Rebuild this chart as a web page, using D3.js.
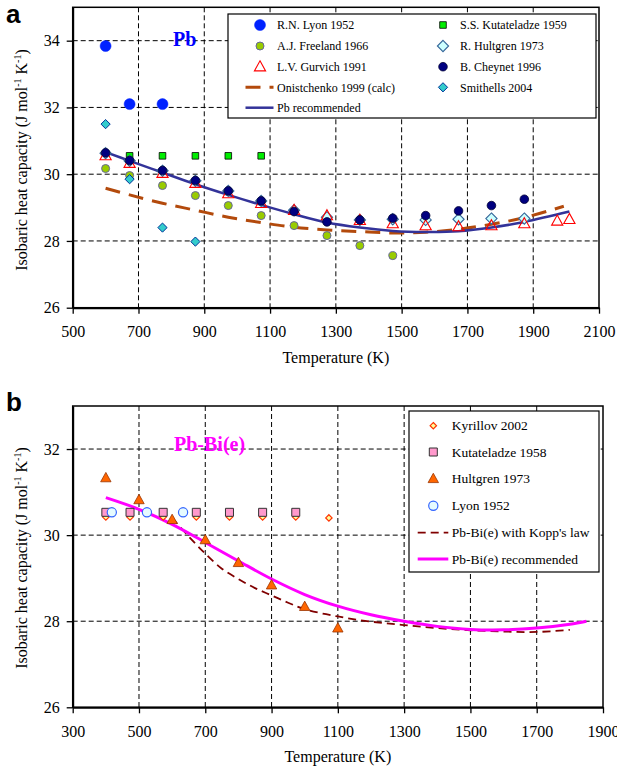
<!DOCTYPE html>
<html><head><meta charset="utf-8">
<script src="https://cdn.jsdelivr.net/npm/d3@7"></script>
<style>body{margin:0;background:#fff}svg{display:block}</style>
</head><body><svg id="c" width="617" height="772"></svg>
<script>
// ---------- Panel a : Pb ----------
const aTicksX = [500,700,900,1100,1300,1500,1700,1900,2100];
const aTicksY = [26,28,30,32,34];
const aLyonT = [600,673,773];
const aLyonCp = [33.84,32.1,32.1];
const aKutT = [673,773,873,973,1073];
const aKutCp = [30.55,30.55,30.55,30.55,30.55];
const aFreeT = [600,673,773,873,973,1073,1173,1273,1373,1473];
const aFreeCp = [30.17,29.96,29.66,29.36,29.06,28.76,28.46,28.16,27.86,27.56];
const aGurT = [600,673,773,873,973,1073,1173,1273,1373,1473,1573,1673,1773,1873,1973,2010];
const aGurCp = [30.56,30.33,30.03,29.73,29.42,29.13,28.92,28.76,28.62,28.52,28.46,28.43,28.46,28.52,28.6,28.65];
const aHultT = [600,673,773,873,973,1073,1173,1273,1373,1473,1573,1673,1773,1873];
const aHultCp = [30.63,30.4,30.1,29.8,29.5,29.2,28.92,28.71,28.63,28.65,28.63,28.65,28.67,28.67];
const aCheyT = [600,673,773,873,973,1073,1173,1273,1373,1473,1573,1673,1773,1873];
const aCheyCp = [30.64,30.41,30.11,29.81,29.5,29.2,28.88,28.57,28.63,28.68,28.76,28.9,29.06,29.25];
const aSmithT = [600,673,773,873];
const aSmithCp = [31.5,29.85,28.4,27.98];
const aOniT = [600,673,773,873,973,1073,1173,1273,1373,1473,1573,1673,1773,1873,1993];
const aOniCp = [29.58,29.38,29.13,28.92,28.71,28.55,28.41,28.33,28.28,28.24,28.26,28.35,28.5,28.7,29.04];
const aRecT = [600,673,773,873,973,1073,1173,1273,1373,1473,1573,1673,1773,1873,2010];
const aRecCp = [30.66,30.4,30.05,29.7,29.38,29.08,28.8,28.55,28.4,28.3,28.27,28.29,28.4,28.57,28.88];

// ---------- Panel b : Pb-Bi(e) ----------
const bTicksX = [300,500,700,900,1100,1300,1500,1700,1900];
const bTicksY = [26,28,30,32];
const bKyrT = [400,473,573,673,773,873,973,1073];
const bKyrCp = [30.42,30.42,30.42,30.42,30.42,30.42,30.42,30.4];
const bKutT = [400,473,573,673,773,873,973];
const bKutCp = [30.53,30.53,30.53,30.53,30.53,30.53,30.53];
const bHultT = [400,500,600,700,800,900,1000,1100];
const bHultCp = [31.33,30.82,30.36,29.89,29.36,28.84,28.34,27.84];
const bLyonT = [418,524,633];
const bLyonCp = [30.53,30.53,30.53];
const bKoppT = [600,650,700,750,800,850,900,950,1000,1100,1200,1300,1400,1500,1600,1700,1800];
const bKoppCp = [30.4,29.97,29.57,29.22,28.98,28.77,28.6,28.43,28.28,28.11,27.99,27.91,27.84,27.79,27.76,27.75,27.8];
const bRecT = [400,500,600,700,800,900,1000,1100,1200,1300,1400,1500,1600,1700,1800,1850];
const bRecCp = [30.87,30.6,30.25,29.83,29.4,28.98,28.62,28.35,28.15,28.0,27.88,27.81,27.8,27.84,27.93,28.0];

const SERIF = "'Liberation Serif', 'Times New Roman', Times, 'DejaVu Serif', serif";
const SANS = "'Liberation Sans', Arial, Helvetica, sans-serif";
const svg = d3.select("#c");
const zip = (t,c) => t.map((v,i)=>[v,c[i]]);

function txt(sel, size, family){
  return sel.style("font-family", family||SERIF).style("font-size", size+"px");
}
function symPath(type, r){
  if(type==="triangle") return `M0,${-r*1.05}L${r},${r*0.75}L${-r},${r*0.75}Z`;
  if(type==="diamond") return `M0,${-r}L${r},0L0,${r}L${-r},0Z`;
  return `M${-r},${-r}H${r}V${r}H${-r}Z`;
}
function drawSym(g, type, x, y, st){
  if(type==="circle"){
    return g.append("circle").attr("cx",x).attr("cy",y).attr("r",st.r)
      .attr("fill",st.fill).attr("stroke",st.stroke||"none").attr("stroke-width",st.sw||1);
  }
  return g.append("path").attr("d",symPath(type,st.r)).attr("transform",`translate(${x},${y})`)
    .attr("fill",st.fill).attr("stroke",st.stroke||"none").attr("stroke-width",st.sw||1);
}
function series(g, xs, ys, T, C, type, st){
  zip(T,C).forEach(([t,c])=>drawSym(g,type,xs(t),ys(c),st));
}
function line(g, xs, ys, T, C, st){
  g.append("path").datum(zip(T,C))
    .attr("d", d3.line().x(d=>xs(d[0])).y(d=>ys(d[1])).curve(d3.curveCatmullRom.alpha(0.5)))
    .attr("fill","none").attr("stroke",st.color).attr("stroke-width",st.w)
    .attr("stroke-dasharray",st.dash||null);
}

function frame(xs, ys, ticksX, ticksY){
  const [x0,x1] = xs.range(), [y0,y1] = ys.range();
  const g = svg.append("g");
  ticksX.slice(1,-1).forEach(t=>g.append("line").attr("x1",xs(t)).attr("x2",xs(t)).attr("y1",y1).attr("y2",y0)
     .attr("stroke","#000").attr("stroke-width",1).attr("stroke-dasharray","5,3"));
  ticksY.slice(1).forEach(t=>g.append("line").attr("x1",x0).attr("x2",x1).attr("y1",ys(t)).attr("y2",ys(t))
     .attr("stroke","#000").attr("stroke-width",1).attr("stroke-dasharray","5,3"));
  return g;
}
function axes(xs, ys, ticksX, ticksY, titleYc){
  const [x0,x1] = xs.range(), [y0,y1] = ys.range();
  svg.append("rect").attr("x",x0).attr("y",y1).attr("width",x1-x0).attr("height",y0-y1)
    .attr("fill","none").attr("stroke","#000").attr("stroke-width",1.5);
  const ax = svg.append("g").attr("transform",`translate(0,${y0})`)
    .call(d3.axisBottom(xs).tickValues(ticksX).tickFormat(d3.format("d")).tickSizeInner(6).tickSizeOuter(0).tickPadding(12));
  const ay = svg.append("g").attr("transform",`translate(${x0},0)`)
    .call(d3.axisLeft(ys).tickValues(ticksY).tickFormat(d3.format("d")).tickSizeInner(6).tickSizeOuter(0).tickPadding(7));
  [ax,ay].forEach(a=>{
    a.select(".domain").attr("stroke","#000").attr("stroke-width",2);
    a.selectAll(".tick line").attr("stroke","#000").attr("stroke-width",1.3);
    txt(a.selectAll("text"),16).attr("fill","#000");
  });
  txt(svg.append("text"),16).attr("x",(x0+x1)/2).attr("y",y0+55).attr("text-anchor","middle")
    .text("Temperature (K)");
  const t = txt(svg.append("text"),16).attr("transform",`translate(27,${titleYc}) rotate(-90)`)
    .attr("text-anchor","middle");
  t.append("tspan").text("Isobaric heat capacity (J mol");
  t.append("tspan").style("font-size","10px").attr("dy",-6).text("-1");
  t.append("tspan").attr("dy",6).text(" K");
  t.append("tspan").style("font-size","10px").attr("dy",-6).text("-1");
  t.append("tspan").attr("dy",6).text(")");
}
function legItem(g, fs, item, sx, tx, y, lx0, lx1){
  const [label,type,st] = item;
  if(type==="line"){
    g.append("line").attr("x1",lx0).attr("x2",lx1).attr("y1",y).attr("y2",y)
      .attr("stroke",st.color).attr("stroke-width",st.w).attr("stroke-dasharray",st.dash||null);
  } else drawSym(g,type,sx,y,st);
  txt(g.append("text"),fs).attr("x",tx).attr("y",y).attr("dy","0.35em").text(label);
}

// ---------- Panel a ----------
const xA = d3.scaleLinear().domain([500,2100]).range([72.7,599]);
const yA = d3.scaleLinear().domain([26,35]).range([307.7,7.3]);
const gA = frame(xA,yA,aTicksX,aTicksY);

const stA = {
  lyon:{r:5.5,fill:"#0022ff",stroke:"#0022ff",sw:0.5},
  free:{r:4,fill:"#99cc00",stroke:"#666699",sw:1},
  kut:{r:3.3,fill:"#00ee00",stroke:"#000",sw:0.8},
  gur:{r:5.6,fill:"none",stroke:"#ff0000",sw:1.1},
  hult:{r:5.6,fill:"#ccffff",stroke:"#336699",sw:1.1},
  chey:{r:4.3,fill:"#000080",stroke:"#000033",sw:0.8},
  smith:{r:4.6,fill:"#33cccc",stroke:"#003399",sw:1}
};
const oniStyle = {color:"#b34a0c",w:3,dash:"15,9"};
const recAStyle = {color:"#333399",w:2.5};
line(gA,xA,yA,aOniT,aOniCp,oniStyle);
line(gA,xA,yA,aRecT,aRecCp,recAStyle);
series(gA,xA,yA,aFreeT,aFreeCp,"circle",stA.free);
series(gA,xA,yA,aKutT,aKutCp,"square",stA.kut);
series(gA,xA,yA,aHultT,aHultCp,"diamond",stA.hult);
series(gA,xA,yA,aGurT,aGurCp,"triangle",stA.gur);
series(gA,xA,yA,aSmithT,aSmithCp,"diamond",stA.smith);
series(gA,xA,yA,aCheyT,aCheyCp,"circle",stA.chey);
series(gA,xA,yA,aLyonT,aLyonCp,"circle",stA.lyon);

txt(svg.append("text"),20).attr("x",173).attr("y",45.5).style("font-weight","bold")
  .attr("fill","#0000ff").text("Pb");

const LA = svg.append("g");
LA.append("rect").attr("x",228).attr("y",14).attr("width",368).attr("height",104)
  .attr("fill","#fff").attr("stroke","#000").attr("stroke-width",1.2);
const legA1 = [["R.N. Lyon 1952","circle",stA.lyon],["A.J. Freeland 1966","circle",stA.free],
  ["L.V. Gurvich 1991","triangle",stA.gur],["Onistchenko 1999 (calc)","line",oniStyle],
  ["Pb recommended","line",recAStyle]];
const legA2 = [["S.S. Kutateladze 1959","square",stA.kut],["R. Hultgren 1973","diamond",stA.hult],
  ["B. Cheynet 1996","circle",stA.chey],["Smithells 2004","diamond",stA.smith]];
const rowsA = [25,46,66.7,87.3,107.7];
legA1.forEach((it,i)=>legItem(LA,12,it,260,277,rowsA[i],245.5,273.5));
legA2.forEach((it,i)=>legItem(LA,12,it,443,460,rowsA[i],0,0));

axes(xA,yA,aTicksX,aTicksY,160);

// ---------- Panel b ----------
const xB = d3.scaleLinear().domain([300,1900]).range([72.7,603]);
const yB = d3.scaleLinear().domain([26,33]).range([707.3,406]);
const gB = frame(xB,yB,bTicksX,bTicksY);
const stB = {
  kyr:{r:3.2,fill:"#ffff99",stroke:"#ff3300",sw:1.2},
  kut:{r:4,fill:"#ff99cc",stroke:"#333333",sw:1},
  hult:{r:5.2,fill:"#ff6600",stroke:"#993300",sw:0.8},
  lyon:{r:4.6,fill:"#e6fbff",stroke:"#3366ff",sw:1.2}
};
const koppStyle = {color:"#800000",w:1.8,dash:"8,5"};
const recBStyle = {color:"#ff00ff",w:3};
line(gB,xB,yB,bKoppT,bKoppCp,koppStyle);
line(gB,xB,yB,bRecT,bRecCp,recBStyle);
series(gB,xB,yB,bKyrT,bKyrCp,"diamond",stB.kyr);
series(gB,xB,yB,bKutT,bKutCp,"square",stB.kut);
series(gB,xB,yB,bLyonT,bLyonCp,"circle",stB.lyon);
series(gB,xB,yB,bHultT,bHultCp,"triangle",stB.hult);

txt(svg.append("text"),20).attr("x",174).attr("y",451).style("font-weight","bold")
  .attr("fill","#ff00ff").text("Pb-Bi(e)");

const LB = svg.append("g");
LB.append("rect").attr("x",409).attr("y",411).attr("width",190).attr("height",161)
  .attr("fill","#fff").attr("stroke","#000").attr("stroke-width",1.2);
const legB = [["Kyrillov 2002","diamond",stB.kyr],["Kutateladze 1958","square",stB.kut],
  ["Hultgren 1973","triangle",stB.hult],["Lyon 1952","circle",stB.lyon],
  ["Pb-Bi(e) with Kopp's law","line",koppStyle],
  ["Pb-Bi(e) recommended","line",recBStyle]];
const rowsB = [425.7,452,478.7,505.7,532.7,559];
legB.forEach((it,i)=>legItem(LB,13.5,it,433.3,451.7,rowsB[i],417.7,448.3));

axes(xB,yB,bTicksX,bTicksY,558);

txt(svg.append("text"),26,SANS).attr("x",6).attr("y",23).style("font-weight","bold").text("a");
txt(svg.append("text"),26,SANS).attr("x",6).attr("y",411).style("font-weight","bold").text("b");
</script></body></html>
